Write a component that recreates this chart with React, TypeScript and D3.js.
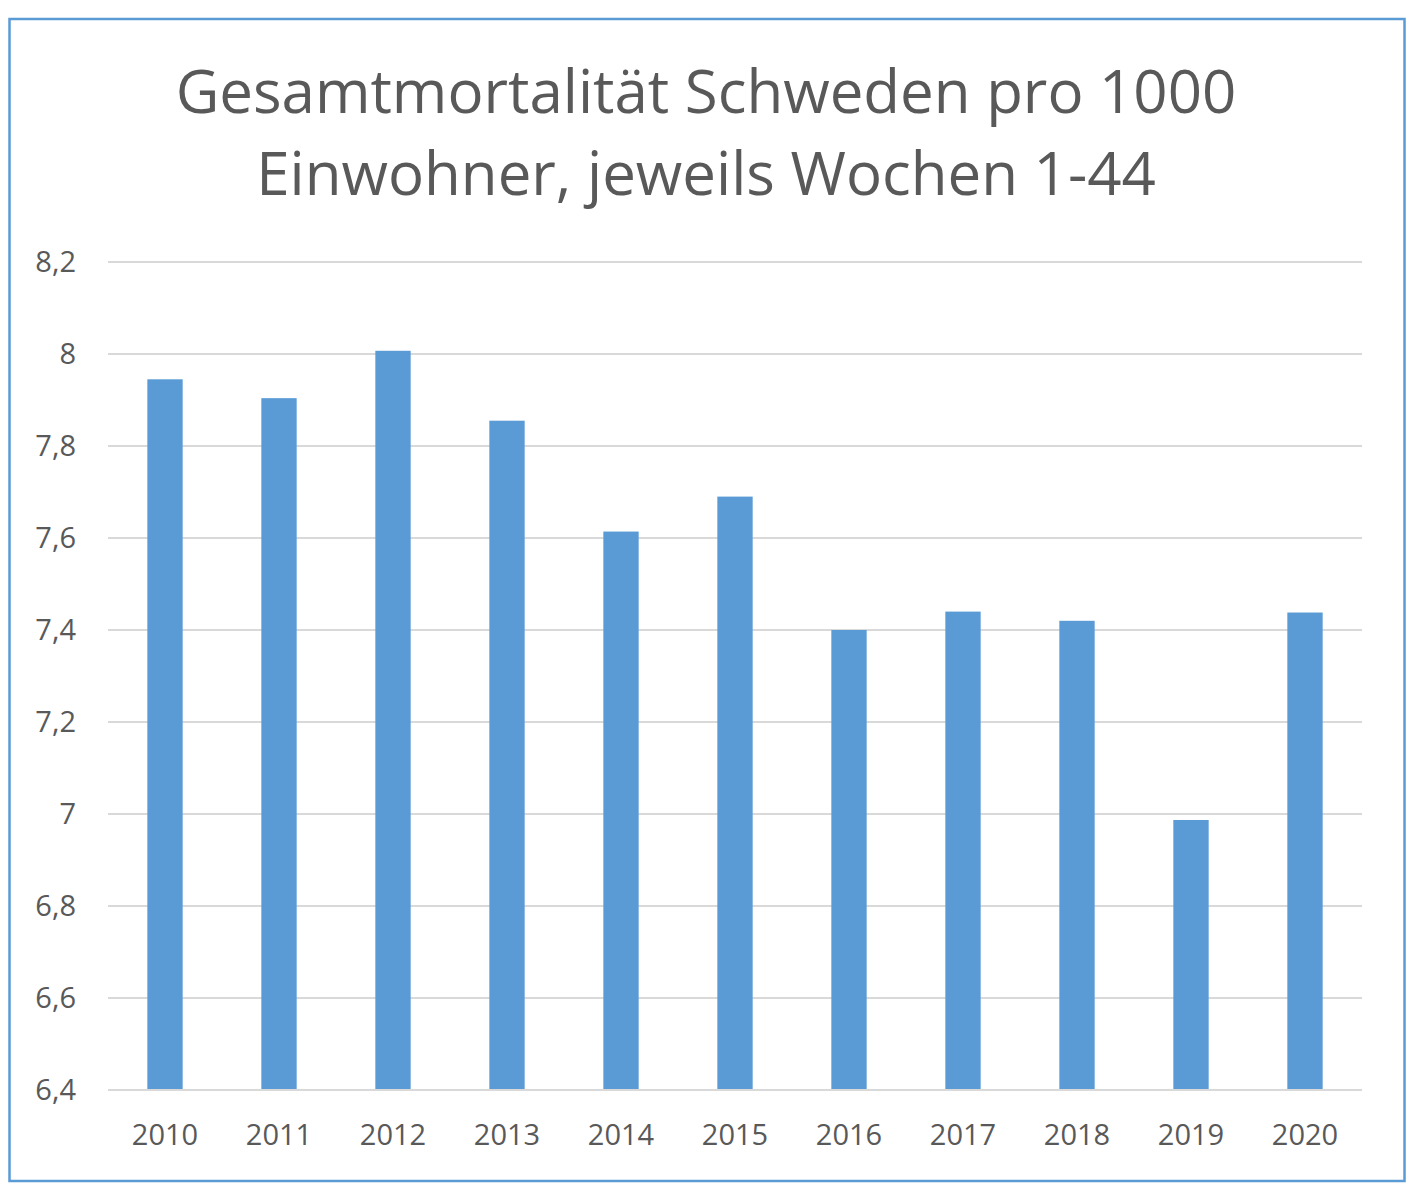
import React from "react";
import * as d3 from "d3";

const years = ["2010", "2011", "2012", "2013", "2014", "2015", "2016", "2017", "2018", "2019", "2020"];
const values = [7.945, 7.904, 8.007, 7.855, 7.614, 7.69, 7.4, 7.44, 7.42, 6.987, 7.438];
const yTicks = [6.4, 6.6, 6.8, 7, 7.2, 7.4, 7.6, 7.8, 8, 8.2];
const titleLines = ["Gesamtmortalität Schweden pro 1000", "Einwohner, jeweils Wochen 1-44"];

const W = 1412;
const H = 1200;
const plot = { left: 108, right: 1362, top: 262, bottom: 1090 };
const font = "'Open Sans', 'Noto Sans', sans-serif";
const textColor = "#595959";

export default function App() {
  const x = d3.scaleBand<string>().domain(years).range([plot.left, plot.right]).paddingInner(0.69).paddingOuter(0.345);
  const y = d3.scaleLinear().domain([6.4, 8.2]).range([plot.bottom, plot.top]);
  const fmt = (v: number) => String(Math.round(v * 10) / 10).replace(".", ",");

  return (
    <svg width={W} height={H} style={{ position: "absolute", left: 0, top: 0 }}>
      <rect x={0} y={0} width={W} height={H} fill="#ffffff" />
      <rect x={9.5} y={19} width={1395} height={1162} fill="#ffffff" stroke="#5b9bd5" strokeWidth={2.5} />
      {titleLines.map((t, i) => (
        <text key={i} x={706} y={113 + i * 82} textAnchor="middle" fontFamily={font} fontSize={60} fill={textColor}>
          {t}
        </text>
      ))}
      {yTicks.map((t) => (
        <g key={t}>
          <line x1={plot.left} x2={plot.right} y1={y(t)} y2={y(t)} stroke="#d9d9d9" strokeWidth={2.2} />
          <text x={76} y={y(t) + 10} textAnchor="end" fontFamily={font} fontSize={29} fill={textColor}>
            {fmt(t)}
          </text>
        </g>
      ))}
      {years.map((yr, i) => (
        <rect key={yr} x={x(yr)} y={y(values[i])} width={x.bandwidth()} height={y(6.4) - y(values[i]) - 1} fill="#5b9bd5" />
      ))}
      {years.map((yr) => (
        <text key={yr} x={(x(yr) as number) + x.bandwidth() / 2} y={1145} textAnchor="middle" fontFamily={font} fontSize={29} fill={textColor}>
          {yr}
        </text>
      ))}
    </svg>
  );
}
